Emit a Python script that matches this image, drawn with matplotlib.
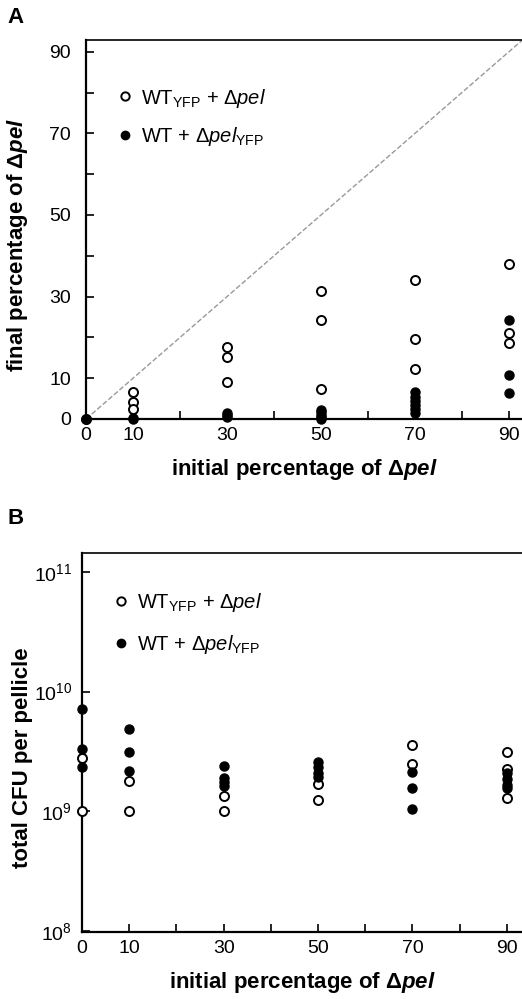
import matplotlib
matplotlib.use("Agg")
import matplotlib.pyplot as plt
from matplotlib.lines import Line2D
from matplotlib.ticker import FixedLocator, LogLocator, NullLocator

plt.rcParams['font.family'] = ['Liberation Sans', 'DejaVu Sans']
plt.rcParams['mathtext.fontset'] = 'custom'
plt.rcParams['mathtext.rm'] = 'Liberation Sans'
plt.rcParams['mathtext.it'] = 'Liberation Sans:italic'
plt.rcParams['mathtext.bf'] = 'Liberation Sans:bold'
plt.rcParams['mathtext.bfit'] = 'Liberation Sans:bold:italic'

# panel A: final percentage of dpel
a_open_x = [0, 10, 10, 10, 30, 30, 30, 50, 50, 50, 70, 70, 70, 90, 90, 90]
a_open_y = [0, 6.7, 4.2, 2.4, 17.7, 15.3, 9.0, 31.4, 24.2, 7.3, 34.1, 19.6, 12.3, 38.0, 21.0, 18.7]
a_fill_x = [0, 10, 10, 30, 30, 30, 50, 50, 50, 50, 50, 70, 70, 70, 70, 70, 70, 90, 90, 90]
a_fill_y = [0, 0, 0.3, 0.5, 1.0, 1.5, 0, 0.5, 1.0, 1.6, 2.2, 6.5, 5.5, 4.5, 3.5, 2.5, 1.5, 24.3, 10.9, 6.4]

# panel B: total CFU per pellicle
b_open_x = [0, 0, 10, 10, 30, 30, 50, 50, 70, 70, 90, 90, 90]
b_open_y = [2.76e9, 1.0e9, 1.78e9, 1.0e9, 1.34e9, 1.0e9, 1.7e9, 1.24e9, 3.6e9, 2.5e9, 3.1e9, 2.24e9, 1.28e9]
b_fill_x = [0, 0, 0, 10, 10, 10, 30, 30, 30, 30, 50, 50, 50, 50, 70, 70, 70, 90, 90, 90, 90]
b_fill_y = [7.2e9, 3.3e9, 2.34e9, 4.9e9, 3.1e9, 2.17e9, 2.4e9, 1.91e9, 1.76e9, 1.63e9,
            2.58e9, 2.34e9, 2.1e9, 1.93e9, 2.13e9, 1.55e9, 1.05e9, 2.1e9, 1.87e9, 1.67e9, 1.57e9]

x_ticks = [0, 10, 30, 50, 70, 90]
lab_open = r'WT$_{\mathrm{YFP}}$ + Δ$\mathit{pel}$'
lab_fill = r'WT + Δ$\mathit{pel}_{\mathrm{YFP}}$'
xlab = r'initial percentage of Δ$\mathbfit{pel}$'

fig = plt.figure(figsize=(5.22, 9.99), dpi=100)
axA = fig.add_axes([0.165, 0.5806, 0.835, 0.3794])
axB = fig.add_axes([0.157, 0.0671, 0.843, 0.3794])


def style(ax, ypad):
    ax.spines['right'].set_visible(False)
    ax.spines['left'].set_linewidth(1.6)
    ax.spines['bottom'].set_linewidth(1.6)
    ax.spines['top'].set_linewidth(1.2)
    ax.tick_params(which='both', direction='in', labelsize=14, width=1.2, length=6)
    ax.tick_params(axis='x', pad=6)
    ax.tick_params(axis='y', pad=ypad)
    ax.xaxis.set_major_locator(FixedLocator(x_ticks))
    ax.xaxis.set_minor_locator(FixedLocator([20, 40, 60, 80]))
    ax.set_xlabel(xlab, fontsize=16, fontweight='bold', labelpad=9)


mk = dict(marker='o', markersize=6.5, linestyle='none', clip_on=False, zorder=3)

axA.axline((0, 0), slope=1, color='#999999', linestyle='--', linewidth=1.0, zorder=1)
axA.plot(a_open_x, a_open_y, markerfacecolor='white', markeredgecolor='black', markeredgewidth=1.4, **mk)
axA.plot(a_fill_x, a_fill_y, markerfacecolor='black', markeredgecolor='black', **mk)
axA.set_xlim(0, 92.8)
axA.set_ylim(0, 92.9)
axA.yaxis.set_major_locator(FixedLocator([0, 10, 30, 50, 70, 90]))
axA.yaxis.set_minor_locator(FixedLocator([20, 40, 60, 80]))
style(axA, 11)
axA.set_ylabel(r'final percentage of Δ$\mathbfit{pel}$', fontsize=16, fontweight='bold')
axA.yaxis.set_label_coords(-0.128, 0.459)

axB.plot(b_open_x, b_open_y, markerfacecolor='white', markeredgecolor='black', markeredgewidth=1.4, **mk)
axB.plot(b_fill_x, b_fill_y, markerfacecolor='black', markeredgecolor='black', **mk)
axB.set_yscale('log')
axB.set_xlim(0, 93.2)
axB.set_ylim(10 ** 7.99, 10 ** 11.16)
axB.yaxis.set_major_locator(LogLocator(base=10, numticks=10))
axB.yaxis.set_minor_locator(NullLocator())
style(axB, 7)
axB.set_ylabel('total CFU per pellicle', fontsize=16, fontweight='bold')
axB.yaxis.set_label_coords(-0.111, 0.459)

handles = [
    Line2D([], [], marker='o', linestyle='none', markersize=6, markerfacecolor='white',
           markeredgecolor='black', markeredgewidth=1.4),
    Line2D([], [], marker='o', linestyle='none', markersize=6, markerfacecolor='black',
           markeredgecolor='black'),
]
for ax, ypos, sp in [(axA, 0.925, 0.75), (axB, 0.948, 0.95)]:
    ax.legend(handles, [lab_open, lab_fill], loc='upper left', bbox_to_anchor=(0.03, ypos),
              frameon=False, fontsize=14.5, handlelength=0.8, handletextpad=0.4, labelspacing=sp)

fig.text(0.014, 0.982, 'A', fontsize=16, fontweight='bold', va='center')
fig.text(0.014, 0.481, 'B', fontsize=16, fontweight='bold', va='center')

fig.savefig('out.png', dpi=100)
